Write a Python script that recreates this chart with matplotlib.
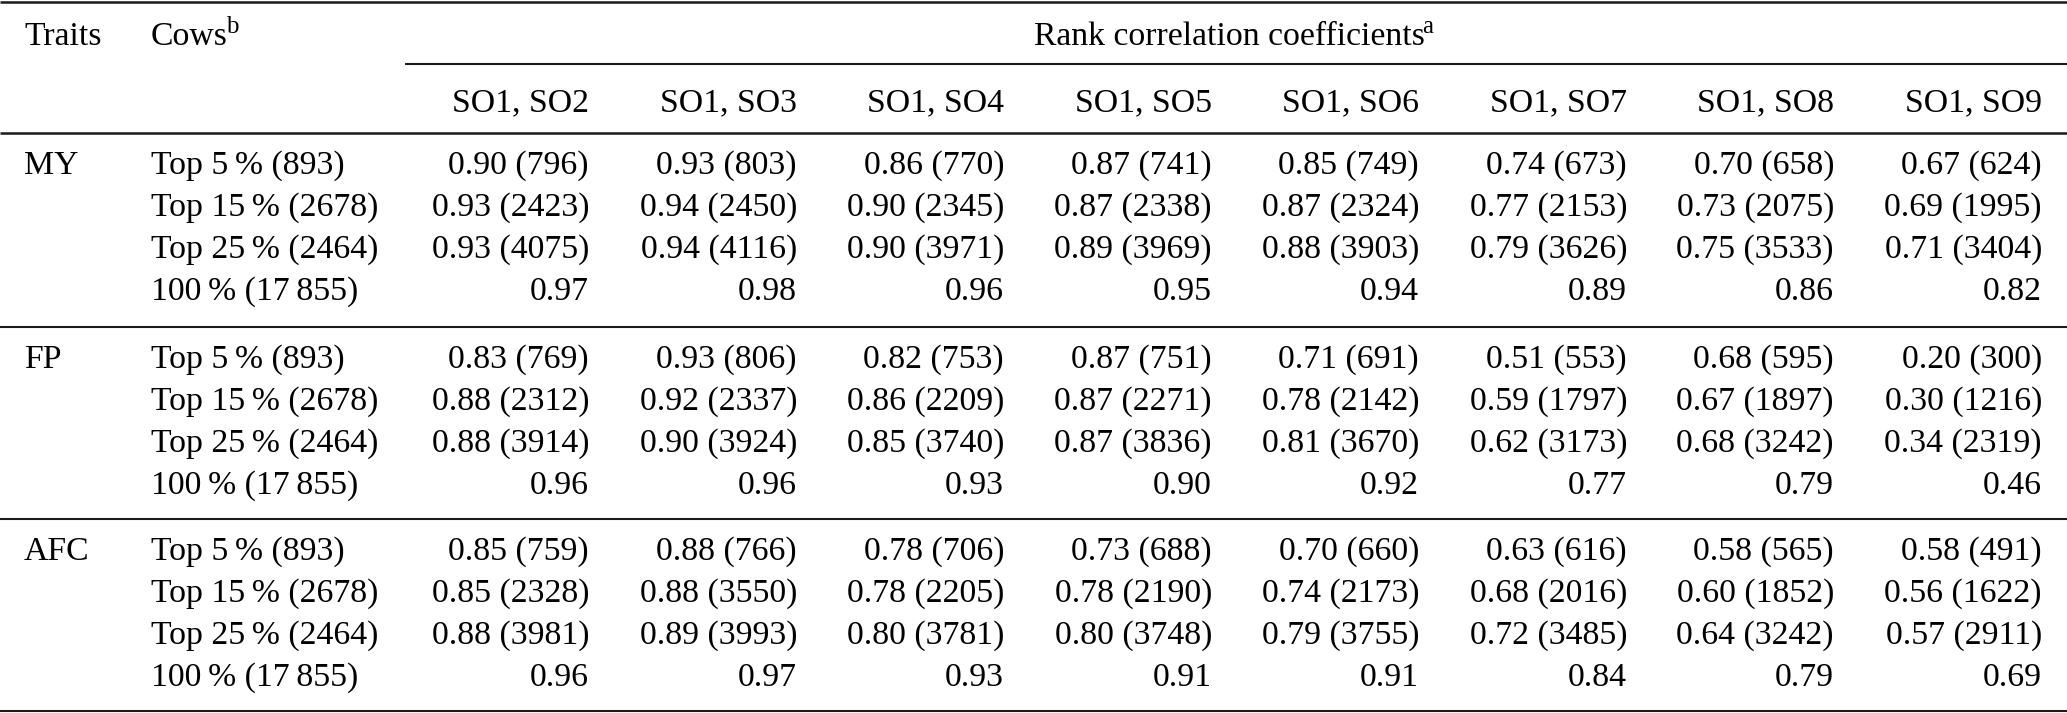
import numpy as np
import matplotlib
matplotlib.use('Agg')
import matplotlib.pyplot as plt

plt.rcParams['font.family'] = ['Liberation Serif', 'DejaVu Serif']

# Dane tabeli
traits = ['MY', 'FP', 'AFC']
cow_groups = ['Top 5\u2009% (893)', 'Top 15\u2009% (2678)', 'Top 25\u2009% (2464)', '100\u2009% (17\u2009855)']
pairs = ['SO1, SO2', 'SO1, SO3', 'SO1, SO4', 'SO1, SO5', 'SO1, SO6', 'SO1, SO7', 'SO1, SO8', 'SO1, SO9']

rho_my = [[0.90, 0.93, 0.86, 0.87, 0.85, 0.74, 0.70, 0.67],
          [0.93, 0.94, 0.90, 0.87, 0.87, 0.77, 0.73, 0.69],
          [0.93, 0.94, 0.90, 0.89, 0.88, 0.79, 0.75, 0.71],
          [0.97, 0.98, 0.96, 0.95, 0.94, 0.89, 0.86, 0.82]]
n_my = [[796, 803, 770, 741, 749, 673, 658, 624],
        [2423, 2450, 2345, 2338, 2324, 2153, 2075, 1995],
        [4075, 4116, 3971, 3969, 3903, 3626, 3533, 3404]]

rho_fp = [[0.83, 0.93, 0.82, 0.87, 0.71, 0.51, 0.68, 0.20],
          [0.88, 0.92, 0.86, 0.87, 0.78, 0.59, 0.67, 0.30],
          [0.88, 0.90, 0.85, 0.87, 0.81, 0.62, 0.68, 0.34],
          [0.96, 0.96, 0.93, 0.90, 0.92, 0.77, 0.79, 0.46]]
n_fp = [[769, 806, 753, 751, 691, 553, 595, 300],
        [2312, 2337, 2209, 2271, 2142, 1797, 1897, 1216],
        [3914, 3924, 3740, 3836, 3670, 3173, 3242, 2319]]

rho_afc = [[0.85, 0.88, 0.78, 0.73, 0.70, 0.63, 0.58, 0.58],
           [0.85, 0.88, 0.78, 0.78, 0.74, 0.68, 0.60, 0.56],
           [0.88, 0.89, 0.80, 0.80, 0.79, 0.72, 0.64, 0.57],
           [0.96, 0.97, 0.93, 0.91, 0.91, 0.84, 0.79, 0.69]]
n_afc = [[759, 766, 706, 688, 660, 616, 565, 491],
         [2328, 3550, 2205, 2190, 2173, 2016, 1852, 1622],
         [3981, 3993, 3781, 3748, 3755, 3485, 3242, 2911]]

rho_all = [rho_my, rho_fp, rho_afc]
n_all = [n_my, n_fp, n_afc]

# Układ (piksele)
W, H = 2067, 713
fs = 24.3
fs_sup = 18
x_trait = 24
x_cows = 151
col_right = [589, 797, 1004, 1212, 1419, 1627, 1834, 2042]
group_lines = [133, 327, 519]
row_off = 30
row_step = 42
base_shift = 11
sup_raise = 12
lc = '#1a1a1a'

fig = plt.figure(figsize=(W / 100, H / 100), dpi=100)
ax = fig.add_axes([0, 0, 1, 1])
ax.set_xlim(0, W)
ax.set_ylim(H, 0)
ax.axis('off')
renderer = fig.canvas.get_renderer()


def put(x, y, s, ha='left', sup=None):
    t = ax.text(x, y + base_shift, s, ha=ha, va='baseline', fontsize=fs, color='black')
    if sup is not None:
        bb = t.get_window_extent(renderer=renderer)
        x_end = ax.transData.inverted().transform((bb.x1, bb.y0))[0]
        ax.text(x_end - 2, y + base_shift - sup_raise, sup, ha='left', va='baseline',
                fontsize=fs_sup, color='black')
    return t


# Linie poziome
ax.plot([0, W], [1.5, 1.5], color=lc, lw=1.8, solid_capstyle='butt')
ax.plot([405, W], [64, 64], color=lc, lw=1.5, solid_capstyle='butt')
for yl in group_lines[1:] + [711]:
    ax.plot([0, W], [yl, yl], color=lc, lw=1.5, solid_capstyle='butt')
ax.plot([0, W], [group_lines[0], group_lines[0]], color=lc, lw=1.8, solid_capstyle='butt')

# Nagłówki
put(x_trait, 34, 'Traits')
put(x_cows, 34, 'Cows', sup='b')
put(1229, 34, 'Rank correlation coefficients', ha='center', sup='a')
for j, p in enumerate(pairs):
    put(col_right[j], 100, p, ha='right')

# Wiersze danych
for g, trait in enumerate(traits):
    y0 = group_lines[g] + row_off
    put(x_trait, y0, trait)
    for i, cg in enumerate(cow_groups):
        y = y0 + i * row_step
        put(x_cows, y, cg)
        for j in range(len(pairs)):
            r = rho_all[g][i][j]
            if i < 3:
                s = f'{r:.2f} ({n_all[g][i][j]})'
            else:
                s = f'{r:.2f}'
            put(col_right[j], y, s, ha='right')

fig.savefig('out.png', dpi=100)
